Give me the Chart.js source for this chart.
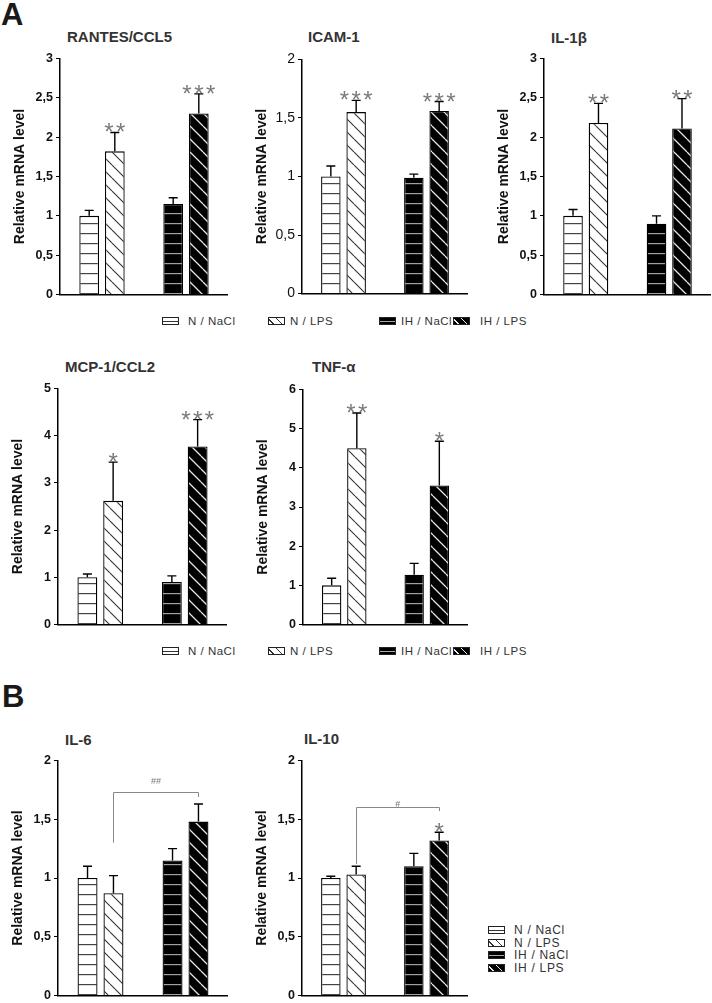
<!DOCTYPE html>
<html><head><meta charset="utf-8">
<script src="https://cdn.jsdelivr.net/npm/chart.js@4.4.1/dist/chart.umd.min.js"></script>
<style>
html,body{margin:0;padding:0;background:#fff;}
body{width:712px;height:1003px;position:relative;overflow:hidden;font-family:"Liberation Sans",Arial,sans-serif;}
canvas{position:absolute;}
.t{position:absolute;font-weight:bold;font-size:15px;color:#333;line-height:18px;white-space:nowrap;}
.letter{position:absolute;font-weight:bold;font-size:31px;color:#1a1a1a;line-height:31px;}
.lg{position:absolute;font-size:11.5px;letter-spacing:0.5px;color:#333;line-height:14px;white-space:nowrap;}
.ic{position:absolute;width:15px;height:6px;border:1px solid #222;}
.ic0{background:linear-gradient(#333,#333) 0 50%/100% 1px no-repeat #fff;}
.ic1{background:repeating-linear-gradient(45deg,#fff 0 2.5px,#333 2.5px 3.6px,#fff 3.6px 6px);}
.ic2{background:linear-gradient(#aaa,#aaa) 0 50%/100% 1px no-repeat #000;}
.ic3{background:repeating-linear-gradient(45deg,#000 0 2.5px,#eee 2.5px 3.8px,#000 3.8px 6px);}
</style></head><body>
<div class="letter" style="left:1px;top:-1px">A</div>
<div class="letter" style="left:2px;top:681px">B</div>
<script>
// ---------- data ----------
const groups = ['N / NaCl', 'N / LPS', 'IH / NaCl', 'IH / LPS'];

const rantesMean = [1.00, 1.82, 1.15, 2.30];
const rantesSem  = [0.07, 0.24, 0.08, 0.25];
const rantesSig  = ['', '**', '', '***'];

const icamMean = [1.00, 1.55, 0.99, 1.56];
const icamSem  = [0.09, 0.10, 0.03, 0.08];
const icamSig  = ['', '***', '', '***'];

const il1bMean = [1.00, 2.18, 0.90, 2.11];
const il1bSem  = [0.08, 0.25, 0.10, 0.38];
const il1bSig  = ['', '**', '', '**'];

const mcpMean = [1.00, 2.62, 0.90, 3.77];
const mcpSem  = [0.07, 0.82, 0.13, 0.57];
const mcpSig  = ['', '*', '', '***'];

const tnfMean = [1.00, 4.50, 1.27, 3.55];
const tnfSem  = [0.18, 0.90, 0.29, 1.13];
const tnfSig  = ['', '**', '', '*'];

const il6Mean = [1.00, 0.87, 1.15, 1.48];
const il6Sem  = [0.10, 0.15, 0.10, 0.15];
const il6Sig  = ['', '', '', ''];

const il10Mean = [1.00, 1.03, 1.10, 1.32];
const il10Sem  = [0.015, 0.07, 0.11, 0.07];
const il10Sig  = ['', '', '', '*'];

const il6Bracket  = {from: 1, to: 3, y: 1.73, leftEnd: 1.30, rightEnd: 1.69, label: '##', labelY: 1.82};
const il10Bracket = {from: 1, to: 3, y: 1.60, leftEnd: 1.12, rightEnd: 1.57, label: '#',  labelY: 1.625};

const yMaxRantes = 3, yMaxIcam = 2, yMaxIl1b = 3, yMaxMcp = 5, yMaxTnf = 6, yMaxIl6 = 2, yMaxIl10 = 2;
const yStepHalf = 0.5, yStepOne = 1;

// ---------- layout ----------
const panels = [
  {title:'RANTES/CCL5', tx:67, ty:28, ax:60,  right:228, top:58,  bottom:297, max:yMaxRantes, step:yStepHalf, mean:rantesMean, sem:rantesSem, sig:rantesSig},
  {title:'ICAM-1',      tx:308,ty:28, ax:302, right:468, top:58,  bottom:297, max:yMaxIcam,   step:yStepHalf, mean:icamMean,   sem:icamSem,   sig:icamSig, regular:true},
  {title:'IL-1β',       tx:551,ty:29, ax:544, right:711, top:58,  bottom:297, max:yMaxIl1b,   step:yStepHalf, mean:il1bMean,   sem:il1bSem,   sig:il1bSig},
  {title:'MCP-1/CCL2',  tx:65, ty:358,ax:58,  right:227, top:388, bottom:627, max:yMaxMcp,    step:yStepOne,  mean:mcpMean,    sem:mcpSem,    sig:mcpSig},
  {title:'TNF-α',       tx:312,ty:358,ax:303, right:468, top:389, bottom:627, max:yMaxTnf,    step:yStepOne,  mean:tnfMean,    sem:tnfSem,    sig:tnfSig},
  {title:'IL-6',        tx:65, ty:731,ax:58,  right:228, top:760, bottom:998, max:yMaxIl6,    step:yStepHalf, mean:il6Mean,    sem:il6Sem,    sig:il6Sig, bracket:il6Bracket},
  {title:'IL-10',       tx:304,ty:730,ax:302, right:468, top:760, bottom:998, max:yMaxIl10,   step:yStepHalf, mean:il10Mean,   sem:il10Sem,   sig:il10Sig, bracket:il10Bracket}
];

const legendRows = [
  {y:314, xs:[[162,188],[268,290],[379,401],[453,480]]},
  {y:644, xs:[[162,188],[268,290],[379,401],[453,480]]}
];

function addDiv(cls, text, left, top, style){
  const d = document.createElement('div');
  d.className = cls; d.textContent = text;
  d.style.left = left + 'px'; d.style.top = top + 'px';
  if (style) d.style.cssText += style;
  document.body.appendChild(d);
  return d;
}

// legends
legendRows.forEach(r => {
  groups.forEach((g, k) => {
    addDiv('ic ic' + k, '', r.xs[k][0], r.y + 3);
    addDiv('lg', g, r.xs[k][1], r.y);
  });
});
groups.forEach((g, k) => {
  const y = 923 + k * 12.7;
  addDiv('ic ic' + k, '', 488, y + 3);
  addDiv('lg', g, 514, y, 'font-size:12px;letter-spacing:0.7px;');
});

// patterns
function hPattern(ctx, bg, fg, off){
  const c = document.createElement('canvas'); c.width = 8; c.height = 10;
  const x = c.getContext('2d');
  x.fillStyle = bg; x.fillRect(0, 0, 8, 10);
  x.fillStyle = fg; x.fillRect(0, off, 8, 1.2);
  return ctx.createPattern(c, 'repeat');
}
function dPattern(ctx, bg, fg, lw){
  const s = 13;
  const c = document.createElement('canvas'); c.width = s; c.height = s;
  const x = c.getContext('2d');
  x.fillStyle = bg; x.fillRect(0, 0, s, s);
  x.strokeStyle = fg; x.lineWidth = lw;
  x.beginPath();
  [-s, 0, s].forEach(k => { x.moveTo(k, 0); x.lineTo(k + s, s); });
  x.stroke();
  return ctx.createPattern(c, 'repeat');
}

const annot = {
  id: 'annot',
  afterDatasetsDraw(chart){
    const p = chart.options.plugins.annot.panel;
    const ys = chart.scales.y;
    const ctx = chart.ctx;
    const pos = [];
    for (let d = 0; d < 2; d++){
      chart.getDatasetMeta(d).data.forEach((el, i) => { pos[i * 2 + d] = el.x; });
    }
    ctx.save();
    ctx.strokeStyle = '#000'; ctx.lineWidth = 1.4;
    p.mean.forEach((m, k) => {
      const x = pos[k];
      const y0 = ys.getPixelForValue(m), y1 = ys.getPixelForValue(m + p.sem[k]);
      ctx.beginPath();
      ctx.moveTo(x, y0); ctx.lineTo(x, y1);
      ctx.moveTo(x - 4.5, y1); ctx.lineTo(x + 4.5, y1);
      ctx.stroke();
      const s = p.sig[k];
      if (s){
        ctx.fillStyle = '#7a7a7a';
        ctx.font = '24px "Liberation Sans"';
        ctx.textAlign = 'center'; ctx.textBaseline = 'alphabetic';
        ctx.letterSpacing = '2.5px';
        ctx.fillText(s, x + 1.25, y1 + 8);
        ctx.letterSpacing = '0px';
      }
    });
    const b = p.bracket;
    if (b){
      const xl = pos[b.from], xr = pos[b.to];
      const yb = Math.round(ys.getPixelForValue(b.y)) + 0.5;
      ctx.strokeStyle = '#888'; ctx.lineWidth = 1;
      ctx.beginPath();
      ctx.moveTo(Math.round(xl) + 0.5, ys.getPixelForValue(b.leftEnd));
      ctx.lineTo(Math.round(xl) + 0.5, yb);
      ctx.lineTo(Math.round(xr) + 0.5, yb);
      ctx.lineTo(Math.round(xr) + 0.5, ys.getPixelForValue(b.rightEnd));
      ctx.stroke();
      ctx.fillStyle = '#777';
      ctx.font = '9px "Liberation Sans"';
      ctx.textAlign = 'center'; ctx.textBaseline = 'middle';
      ctx.fillText(b.label, (xl + xr) / 2, ys.getPixelForValue(b.labelY));
    }
    ctx.restore();
  }
};

const YW = 52, PT = 10, PB = 8;
panels.forEach(p => {
  addDiv('t', p.title, p.tx, p.ty);
  const cv = document.createElement('canvas');
  const left = p.ax - YW, top = p.top - PT;
  const w = p.right - left, h = p.bottom - top + PB;
  cv.width = w; cv.height = h;
  cv.style.left = left + 'px'; cv.style.top = top + 'px';
  cv.style.width = w + 'px'; cv.style.height = h + 'px';
  document.body.appendChild(cv);
  const ctx = cv.getContext('2d');
  const off = (((p.bottom - top) - 4) % 10 + 10) % 10;
  const pNW = hPattern(ctx, '#fff', '#444', off);
  const pNB = hPattern(ctx, '#000', '#a0a0a0', off);
  const pDW = dPattern(ctx, '#fff', '#333', 1.1);
  const pDB = dPattern(ctx, '#000', '#e6e6e6', 1.3);
  const tickFont = p.regular ? {family:'Liberation Sans', size:14, weight:'normal'} : {family:'Liberation Sans', size:12.5, weight:'bold'};
  new Chart(ctx, {
    type: 'bar',
    data: {
      labels: ['N', 'IH'],
      datasets: [
        {label: 'NaCl', data: [p.mean[0], p.mean[2]], backgroundColor: [pNW, pNB]},
        {label: 'LPS',  data: [p.mean[1], p.mean[3]], backgroundColor: [pDW, pDB]}
      ]
    },
    options: {
      responsive: false, animation: false, devicePixelRatio: 1,
      layout: {padding: {top: PT, bottom: PB, left: 0, right: 0}},
      datasets: {bar: {borderColor: '#000', borderWidth: 1.3, categoryPercentage: 0.61, barPercentage: 0.77}},
      plugins: {legend: {display: false}, tooltip: {enabled: false}, annot: {panel: p}},
      scales: {
        x: {
          grid: {display: false, drawTicks: false},
          border: {display: true, color: '#000', width: 1.5},
          ticks: {display: false},
          afterFit: s => { s.height = 0; }
        },
        y: {
          min: 0, max: p.max,
          ticks: {stepSize: p.step, color: '#111', font: tickFont, padding: 3,
                  callback: v => String(v).replace('.', ',')},
          grid: {display: true, drawOnChartArea: false, drawTicks: true, tickLength: 4, color: '#000', lineWidth: 1},
          border: {display: true, color: '#000', width: 1.5},
          title: {display: true, text: 'Relative mRNA level', color: '#111',
                  font: {family: 'Liberation Sans', size: 14, weight: 'bold'}},
          afterFit: s => { s.width = YW; }
        }
      }
    },
    plugins: [annot]
  });
});
</script>
</body></html>
